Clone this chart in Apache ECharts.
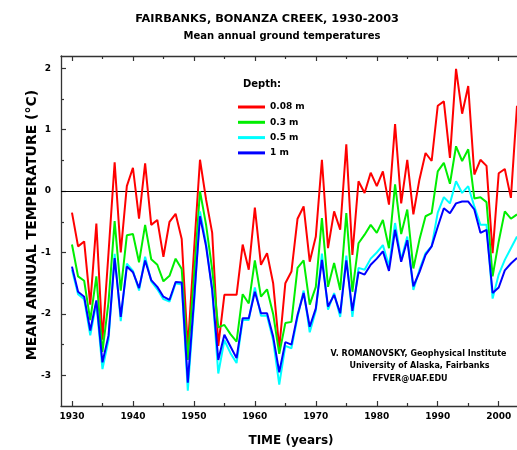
<!DOCTYPE html>
<html><head><meta charset="utf-8">
<script src="https://cdn.jsdelivr.net/npm/echarts@6/dist/echarts.min.js"></script>
<style>html,body{margin:0;padding:0;background:#fff}#c{width:517px;height:450px}</style>
</head><body><div id="c"></div>
<script>
const years = [1930,1931,1932,1933,1934,1935,1936,1937,1938,1939,
 1940,1941,1942,1943,1944,1945,1946,1947,1948,1949,
 1950,1951,1952,1953,1954,1955,1956,1957,1958,1959,
 1960,1961,1962,1963,1964,1965,1966,1967,1968,1969,
 1970,1971,1972,1973,1974,1975,1976,1977,1978,1979,
 1980,1981,1982,1983,1984,1985,1986,1987,1988,1989,
 1990,1991,1992,1993,1994,1995,1996,1997,1998,1999,
 2000,2001,2002,2003];
const depth008 = [-0.35,-0.90,-0.82,-1.85,-0.53,-2.42,-1.00,0.47,-1.00,0.08,
 0.38,-0.45,0.45,-0.55,-0.47,-1.07,-0.50,-0.37,-0.78,-2.56,
 -1.00,0.51,-0.14,-0.68,-2.52,-1.69,-1.69,-1.69,-0.87,-1.28,
 -0.27,-1.20,-1.01,-1.50,-2.56,-1.50,-1.31,-0.45,-0.25,-1.15,
 -0.74,0.51,-0.93,-0.33,-0.63,0.76,-1.04,0.16,-0.03,0.30,
 0.08,0.32,-0.22,1.09,-0.20,0.51,-0.38,0.19,0.62,0.49,
 1.39,1.46,0.54,1.99,1.26,1.71,0.27,0.51,0.41,-1.01,
 0.29,0.36,-0.11,1.39];
const depth03 = [-0.87,-1.39,-1.46,-2.10,-1.39,-2.62,-1.80,-0.49,-1.62,-0.72,
 -0.70,-1.16,-0.55,-1.11,-1.20,-1.47,-1.38,-1.10,-1.27,-2.75,
 -1.40,0.00,-0.55,-1.28,-2.22,-2.18,-2.33,-2.45,-1.68,-1.83,
 -1.13,-1.72,-1.60,-2.00,-2.65,-2.15,-2.13,-1.25,-1.13,-1.85,
 -1.56,-0.44,-1.56,-1.17,-1.61,-0.36,-1.64,-0.85,-0.71,-0.55,
 -0.68,-0.47,-0.93,0.11,-0.70,-0.30,-1.26,-0.79,-0.41,-0.36,
 0.32,0.46,0.12,0.73,0.49,0.68,-0.12,-0.10,-0.18,-1.39,
 -0.82,-0.33,-0.45,-0.38];
const depth05 = [-1.28,-1.68,-1.76,-2.35,-1.82,-2.90,-2.42,-1.02,-2.12,-1.18,
 -1.30,-1.62,-1.07,-1.47,-1.60,-1.76,-1.80,-1.50,-1.52,-3.25,
 -1.88,-0.33,-0.85,-1.62,-2.97,-2.43,-2.64,-2.80,-2.10,-2.10,
 -1.57,-2.03,-2.03,-2.43,-3.15,-2.52,-2.56,-2.05,-1.62,-2.30,
 -1.95,-1.02,-1.93,-1.66,-2.05,-1.05,-2.05,-1.25,-1.28,-1.10,
 -1.00,-0.88,-1.22,-0.52,-1.12,-0.74,-1.61,-1.28,-1.01,-0.90,
 -0.35,-0.10,-0.20,0.16,-0.03,0.08,-0.25,-0.55,-0.55,-1.75,
 -1.36,-1.12,-0.93,-0.74];
const depth1 = [-1.23,-1.64,-1.72,-2.27,-1.78,-2.79,-2.35,-1.09,-2.05,-1.23,
 -1.32,-1.58,-1.13,-1.45,-1.56,-1.72,-1.77,-1.48,-1.49,-3.12,
 -1.80,-0.41,-0.90,-1.61,-2.75,-2.34,-2.53,-2.72,-2.07,-2.07,
 -1.64,-1.99,-1.99,-2.37,-2.95,-2.46,-2.50,-2.02,-1.66,-2.21,
 -1.91,-1.12,-1.88,-1.69,-1.99,-1.13,-1.95,-1.32,-1.36,-1.20,
 -1.10,-0.98,-1.30,-0.63,-1.15,-0.80,-1.55,-1.32,-1.04,-0.90,
 -0.58,-0.28,-0.36,-0.20,-0.17,-0.17,-0.30,-0.68,-0.63,-1.66,
 -1.57,-1.29,-1.18,-1.09];
const seriesNames = ['0.08 m','0.3 m','0.5 m','1 m'];
const xLabelTicks = [1930,1940,1950,1960,1970,1980,1990,2000];
const xMinorTicks = [1935,1945,1955,1965,1975,1985,1995];
const yLabelTicks = [-3,-2,-1,0,1,2];
const yMinorTicks = [-2.5,-1.5,-0.5,0.5,1.5];

const FONT = 'DejaVu Sans';
const AX = '#333';
const XMIN = 1928.2, XMAX = 2003, YMIN = -3.5, YMAX = 2.2;

function xAx(pos, ticks, len, labels, line) {
  return {
    type:'value', position:pos, min:XMIN, max:XMAX,
    axisLine:{show:line, onZero:false, lineStyle:{color:AX, width:1.3}},
    axisTick:{show:true, inside:true, length:len, customValues:ticks, lineStyle:{color:AX, width:1.2}},
    axisLabel:labels ? {show:true, customValues:xLabelTicks, margin:6, color:'#000', fontFamily:FONT, fontWeight:'bold', fontSize:9, formatter:v=>String(v)} : {show:false},
    splitLine:{show:false}
  };
}
function yAx(ticks, len, labels, line) {
  return {
    type:'value', position:'left', min:YMIN, max:YMAX,
    axisLine:{show:line, onZero:false, lineStyle:{color:AX, width:1.3}},
    axisTick:{show:true, inside:true, length:len, customValues:ticks, lineStyle:{color:AX, width:1.2}},
    axisLabel:labels ? {show:true, customValues:yLabelTicks, margin:10, color:'#000', fontFamily:FONT, fontWeight:'bold', fontSize:9} : {show:false},
    splitLine:{show:false}
  };
}
const colors = ['#ff0000','#00ee00','#00ffff','#0000ff'];
const datasets = [depth008, depth03, depth05, depth1];
const series = datasets.map((d,i)=>({
  name: seriesNames[i], type:'line', xAxisIndex:0, yAxisIndex:0,
  data: years.map((y,j)=>[y, d[j]]), symbol:'none', color: colors[i],
  lineStyle:{width:2, color:colors[i]}, z: 3+i
}));
series[0].markLine = {silent:true, symbol:'none', label:{show:false}, lineStyle:{color:'#000', width:1, type:'solid'}, data:[{yAxis:0}], z:1};

const chart = echarts.init(document.getElementById('c'));
chart.setOption({
  animation:false,
  backgroundColor:'#fff',
  grid:{left:61, top:56, right:-1, bottom:44, containLabel:false},
  xAxis:[xAx('bottom', xLabelTicks, 5, true, true), xAx('bottom', xMinorTicks, 3, false, false),
         xAx('top', xLabelTicks, 5, false, true), xAx('top', xMinorTicks, 3, false, false)],
  yAxis:[yAx(yLabelTicks, 5, true, true), yAx(yMinorTicks, 3, false, false)],
  legend:{orient:'vertical', left:233, top:97, itemWidth:27, itemHeight:3, itemGap:5.3, icon:'rect',
    textStyle:{fontFamily:FONT, fontWeight:'bold', fontSize:9, color:'#000', lineHeight:10},
    data:seriesNames, selectedMode:false},
  series: series,
  graphic:[
    {type:'text', x:267, y:19, style:{text:'FAIRBANKS, BONANZA CREEK, 1930-2003', font:'bold 11.3px "DejaVu Sans"', fill:'#000', textAlign:'center', textVerticalAlign:'middle'}},
    {type:'text', x:282, y:36, style:{text:'Mean annual ground temperatures', font:'bold 10px "DejaVu Sans"', fill:'#000', textAlign:'center', textVerticalAlign:'middle'}},
    {type:'text', x:262, y:84, style:{text:'Depth:', font:'bold 10px "DejaVu Sans"', fill:'#000', textAlign:'center', textVerticalAlign:'middle'}},
    {type:'text', x:291, y:441, style:{text:'TIME (years)', font:'bold 12px "DejaVu Sans"', fill:'#000', textAlign:'center', textVerticalAlign:'middle'}},
    {type:'text', x:32, y:225, rotation:Math.PI/2, style:{text:'MEAN ANNUAL TEMPERATURE (°C)', font:'bold 14px "DejaVu Sans"', fill:'#000', textAlign:'center', textVerticalAlign:'middle'}},
    {type:'text', x:418.5, y:353.5, style:{text:'V. ROMANOVSKY, Geophysical Institute', font:'bold 8px "DejaVu Sans"', fill:'#000', textAlign:'center', textVerticalAlign:'middle'}},
    {type:'text', x:419.5, y:366, style:{text:'University of Alaska, Fairbanks', font:'bold 8px "DejaVu Sans"', fill:'#000', textAlign:'center', textVerticalAlign:'middle'}},
    {type:'text', x:410, y:379, style:{text:'FFVER@UAF.EDU', font:'bold 8px "DejaVu Sans"', fill:'#000', textAlign:'center', textVerticalAlign:'middle'}}
  ]
});
</script></body></html>
